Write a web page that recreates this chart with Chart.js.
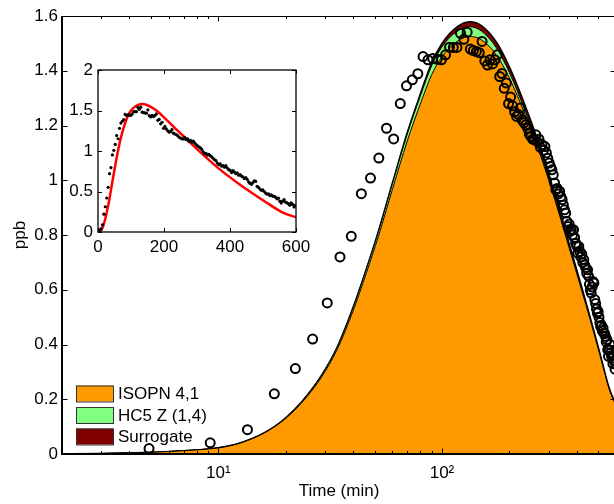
<!DOCTYPE html>
<html><head><meta charset="utf-8">
<script src="https://cdn.jsdelivr.net/npm/chart.js@4/dist/chart.umd.min.js"></script>
<style>
html,body{margin:0;padding:0;background:#fff;overflow:hidden;width:614px;height:504px;}
#wrap{position:relative;width:614px;height:504px;overflow:hidden;background:#fff;}
#main{position:absolute;left:0;top:0;width:625px;height:504px;}
#inset{position:absolute;left:0;top:0;width:320px;height:270px;}
</style></head><body>
<div id="wrap"><canvas id="main" width="625" height="504"></canvas><canvas id="inset" width="320" height="270"></canvas></div>
<script>
// ---- data ----
const modelTime = [1,2,3,4,5,6,7,8,10,12,14,16,19,22,25,29,34,40,46,52,60,70,80,90,100,115,133,150,175,200,235,270,305,340,370,420,460,510,560,600];
const isopn = [0,0.001,0.002,0.004,0.006,0.009,0.012,0.015,0.022,0.035,0.054,0.076,0.115,0.161,0.211,0.282,0.382,0.522,0.663,0.796,0.966,1.144,1.278,1.386,1.451,1.503,1.525,1.513,1.458,1.374,1.241,1.112,0.982,0.856,0.754,0.602,0.490,0.357,0.235,0.176];
const hc5 = [0,0,0,0,0,0,0,0,0.001,0.001,0.001,0.001,0.002,0.003,0.004,0.006,0.008,0.011,0.014,0.016,0.020,0.025,0.029,0.033,0.036,0.037,0.036,0.032,0.026,0.020,0.014,0.010,0.007,0.005,0.004,0.003,0.002,0.002,0.001,0.001];
const surrogate = [0,0,0,0,0,0,0,0,0,0,0,0,0,0,0.001,0.001,0.001,0.002,0.002,0.003,0.004,0.006,0.008,0.011,0.013,0.016,0.018,0.020,0.021,0.021,0.020,0.018,0.016,0.014,0.012,0.010,0.008,0.006,0.004,0.003];

const obsTime = [0.6,4.9,9.2,13.5,17.8,22.1,26.4,30.7,35.0,39.3,43.6,47.9,52.2,56.5,60.8,65.1,69.4,73.7,78.0,82.3,86.6,90.9,95.2,99.5,103.8,108.1,112.4,116.7,121.0,125.3,129.6,133.9,138.2,142.5,146.8,151.1,155.4,159.7,164.0,168.3,172.6,176.9,181.2,185.5,189.8,194.1,198.4,202.7,207.0,211.3,215.6,219.9,224.2,228.5,232.8,237.1,241.4,245.7,250.0,254.3,258.6,262.9,267.2,271.5,275.8,280.1,284.4,288.7,293.0,297.3,301.6,305.9,310.2,314.5,318.8,323.1,327.4,331.7,336.0,340.3,344.6,348.9,353.2,357.5,361.8,366.1,370.4,374.7,379.0,383.3,387.6,391.9,396.2,400.5,404.8,409.1,413.4,417.7,422.0,426.3,430.6,434.9,439.2,443.5,447.8,452.1,456.4,460.7,465.0,469.3,473.6,477.9,482.2,486.5,490.8,495.1,499.4,503.7,508.0,512.3,516.6,520.9,525.2,529.5,533.8,538.1,542.4,546.7,551.0,555.3,559.6,563.9,568.2,572.5,576.8,581.1,585.4,589.7,594.0,598.3];
const obsValue = [0.02,0.02,0.041,0.089,0.22,0.312,0.42,0.552,0.72,0.795,0.951,1.008,1.081,1.19,1.151,1.28,1.345,1.367,1.389,1.452,1.44,1.445,1.442,1.44,1.458,1.486,1.485,1.485,1.537,1.515,1.541,1.479,1.474,1.47,1.466,1.507,1.436,1.421,1.44,1.425,1.44,1.458,1.379,1.39,1.336,1.355,1.28,1.304,1.272,1.25,1.233,1.24,1.264,1.22,1.21,1.203,1.19,1.17,1.16,1.15,1.148,1.166,1.14,1.15,1.12,1.13,1.11,1.123,1.10,1.08,1.063,1.05,1.038,1.02,0.99,0.965,0.97,0.95,0.959,0.94,0.929,0.91,0.892,0.88,0.85,0.831,0.84,0.813,0.82,0.80,0.819,0.79,0.77,0.76,0.734,0.758,0.74,0.72,0.73,0.70,0.71,0.69,0.68,0.66,0.673,0.65,0.62,0.60,0.588,0.61,0.63,0.625,0.564,0.55,0.53,0.515,0.52,0.50,0.48,0.466,0.47,0.45,0.46,0.442,0.44,0.43,0.41,0.418,0.381,0.357,0.38,0.40,0.37,0.36,0.35,0.33,0.36,0.34,0.31,0.33];

const seriesNames = ['ISOPN 4,1', 'HC5 Z (1,4)', 'Surrogate'];
const xTickValues = [2,3,4,5,6,7,8,9,10,20,30,40,50,60,70,80,90,100,200,300,400,500,600];
const xMajorTicks = [10,100];
const xTickLabels = {10:'10\u00B9', 100:'10\u00B2'};
const yTickValues = [0,0.2,0.4,0.6,0.8,1.0,1.2,1.4,1.6];
const insetXTicks = [0,200,400,600];
const insetYTicks = [0,0.5,1,1.5,2];

// ---- styling ----
const FONT = "'Liberation Sans', Arial, Helvetica, sans-serif";
const FS = 17;
const colors = ['#FF9900', '#80FF80', '#800000'];
const pts = (xs, ys) => xs.map((x, i) => ({x: x, y: ys[i]}));
const fmt = v => String(Math.round(v * 10) / 10);

const mainFrame = {
  id: 'mainFrame',
  afterDraw(chart) {
    const {ctx, chartArea: a, scales} = chart;
    ctx.save();
    ctx.strokeStyle = '#000';
    ctx.lineWidth = 1;
    ctx.beginPath();
    xTickValues.forEach(v => {
      const px = Math.round(scales.x.getPixelForValue(v)) + 0.5;
      const len = xMajorTicks.includes(v) ? 5.5 : 3;
      ctx.moveTo(px, a.top); ctx.lineTo(px, a.top + len);
      ctx.moveTo(px, a.bottom); ctx.lineTo(px, a.bottom - len);
    });
    yTickValues.forEach(v => {
      const py = Math.round(scales.y.getPixelForValue(v)) + 0.5;
      ctx.moveTo(a.left, py); ctx.lineTo(a.left + 5.5, py);
      ctx.moveTo(a.right, py); ctx.lineTo(a.right - 5.5, py);
    });
    ctx.stroke();
    ctx.lineWidth = 1;
    ctx.strokeRect(a.left, a.top + 0.5, a.right - a.left, a.bottom - a.top);
    ctx.lineWidth = 2;
    ctx.beginPath();
    ctx.moveTo(a.left, a.top); ctx.lineTo(a.left, a.bottom); ctx.lineTo(a.right, a.bottom);
    ctx.stroke();
    // legend
    const bx = 76, bw = 37, bh = 16, y0 = 385.5, dy = 21.5;
    ctx.font = FS + 'px ' + FONT;
    ctx.textBaseline = 'middle';
    ctx.textAlign = 'left';
    seriesNames.forEach((name, i) => {
      const by = y0 + i * dy;
      ctx.fillStyle = colors[i];
      ctx.fillRect(bx, by, bw, bh);
      ctx.strokeStyle = '#333';
      ctx.lineWidth = 1;
      ctx.strokeRect(bx + 0.5, by + 0.5, bw, bh);
      ctx.fillStyle = '#000';
      ctx.fillText(name, bx + bw + 5, by + bh / 2 + 1);
    });
    ctx.restore();
  }
};

const areaDs = (i, vals) => ({
  label: seriesNames[i],
  data: pts(modelTime, vals),
  backgroundColor: colors[i],
  borderColor: '#000',
  borderWidth: i === 2 ? 1.5 : 1,
  fill: i === 0 ? 'origin' : '-1',
  pointRadius: 0,
  cubicInterpolationMode: 'monotone',
  stack: 'model',
  order: 2
});

new Chart(document.getElementById('main'), {
  type: 'line',
  data: {
    datasets: [
      areaDs(0, isopn), areaDs(1, hc5), areaDs(2, surrogate),
      {
        label: 'data',
        data: pts(obsTime, obsValue),
        showLine: false,
        pointRadius: 4.5,
        pointBorderWidth: 2,
        pointBorderColor: '#000',
        pointBackgroundColor: 'rgba(0,0,0,0)',
        stack: 'obs',
        order: 0
      }
    ]
  },
  options: {
    responsive: false,
    animation: false,
    devicePixelRatio: 1,
    layout: {padding: {left: 0, top: 16, right: 6, bottom: 0}},
    plugins: {legend: {display: false}, tooltip: {enabled: false}},
    scales: {
      x: {
        type: 'logarithmic', min: 2, max: 600,
        afterBuildTicks: s => { s.ticks = xTickValues.map(v => ({value: v})); },
        afterFit: s => { s.height = 50; },
        grid: {display: false, drawTicks: false},
        border: {display: false},
        ticks: {autoSkip: false, maxRotation: 0, padding: 9, color: '#000',
                font: {family: FONT, size: FS}, callback: v => xTickLabels[v] || ''},
        title: {display: true, text: 'Time (min)', color: '#000', font: {family: FONT, size: FS},
                padding: {top: 0, bottom: 2}}
      },
      y: {
        type: 'linear', min: 0, max: 1.6, stacked: true,
        afterBuildTicks: s => { s.ticks = yTickValues.map(v => ({value: v})); },
        afterFit: s => { s.width = 62; },
        grid: {display: false, drawTicks: false},
        border: {display: false},
        ticks: {padding: 4, color: '#000', font: {family: FONT, size: FS}, callback: fmt},
        title: {display: true, text: 'ppb', color: '#000', font: {family: FONT, size: FS},
                padding: {top: 10, bottom: 0}}
      }
    }
  },
  plugins: [mainFrame]
});

// ---- inset ----
const modelTotal = modelTime.map((t, i) => isopn[i] + hc5[i] + surrogate[i]);
const insetFrame = {
  id: 'insetFrame',
  beforeDraw(chart) {
    const {ctx, chartArea: a} = chart;
    ctx.save(); ctx.fillStyle = '#fff';
    ctx.fillRect(a.left, a.top, a.right - a.left, a.bottom - a.top);
    ctx.restore();
  },
  afterDraw(chart) {
    const {ctx, chartArea: a, scales} = chart;
    ctx.save();
    ctx.strokeStyle = '#000';
    ctx.lineWidth = 1;
    ctx.beginPath();
    insetXTicks.forEach(v => {
      const px = Math.round(scales.x.getPixelForValue(v)) + 0.5;
      ctx.moveTo(px, a.top); ctx.lineTo(px, a.top + 4);
      ctx.moveTo(px, a.bottom); ctx.lineTo(px, a.bottom - 4);
    });
    insetYTicks.forEach(v => {
      const py = Math.round(scales.y.getPixelForValue(v)) + 0.5;
      ctx.moveTo(a.left, py); ctx.lineTo(a.left + 4, py);
      ctx.moveTo(a.right, py); ctx.lineTo(a.right - 4, py);
    });
    ctx.stroke();
    ctx.lineWidth = 1.3;
    ctx.strokeRect(a.left, a.top, a.right - a.left, a.bottom - a.top);
    ctx.restore();
  }
};

new Chart(document.getElementById('inset'), {
  type: 'line',
  data: {
    datasets: [
      {
        label: 'data',
        data: pts(obsTime, obsValue),
        showLine: false,
        pointRadius: 1.6,
        pointBorderWidth: 0,
        pointBackgroundColor: '#000',
        order: 0
      },
      {
        label: 'model',
        data: pts(modelTime, modelTotal),
        borderColor: '#FF0000',
        borderWidth: 2.5,
        pointRadius: 0,
        fill: false,
        cubicInterpolationMode: 'monotone',
        order: 1
      }
    ]
  },
  options: {
    responsive: false,
    animation: false,
    devicePixelRatio: 1,
    layout: {padding: {left: 0, top: 70, right: 24, bottom: 0}},
    plugins: {legend: {display: false}, tooltip: {enabled: false}},
    scales: {
      x: {
        type: 'linear', min: 0, max: 600,
        afterBuildTicks: s => { s.ticks = insetXTicks.map(v => ({value: v})); },
        afterFit: s => { s.height = 38; },
        grid: {display: false, drawTicks: false},
        border: {display: false},
        ticks: {autoSkip: false, maxRotation: 0, padding: 5, color: '#000',
                font: {family: FONT, size: FS}, callback: v => String(v)}
      },
      y: {
        type: 'linear', min: 0, max: 2,
        afterBuildTicks: s => { s.ticks = insetYTicks.map(v => ({value: v})); },
        afterFit: s => { s.width = 98; },
        grid: {display: false, drawTicks: false},
        border: {display: false},
        ticks: {padding: 5, color: '#000', font: {family: FONT, size: FS}, callback: fmt}
      }
    }
  },
  plugins: [insetFrame]
});
</script>
</body></html>
